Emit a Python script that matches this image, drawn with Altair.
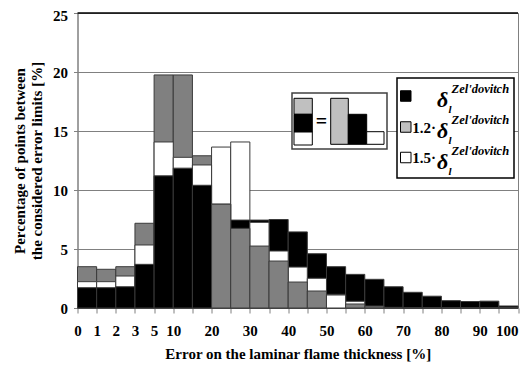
import altair as alt
import pandas as pd

# ---- data ----
edge_labels = ["0", "1", "2", "3", "5", "10", "", "20", "", "30", "", "40", "", "50", "",
               "60", "", "70", "", "80", "", "90", "", "100"]
series_names = ["d", "1.2d", "1.5d"]
black_vals = [1.72, 1.72, 1.80, 3.70, 11.20, 11.85, 10.40, 8.80, 7.45, 7.45, 7.50, 6.45,
              4.60, 3.50, 2.85, 2.43, 1.80, 1.33, 1.00, 0.62, 0.55, 0.58, 0.17]
gray_vals = [3.50, 3.28, 3.50, 7.18, 19.75, 19.75, 12.90, 8.80, 6.75, 5.25, 3.98, 2.20,
             1.44, 1.16, 0.34, 0.10, 0.05, 0.0, 0.0, 0.0, 0.0, 0.0, 0.0]
white_vals = [2.23, 2.23, 2.71, 5.34, 14.07, 12.77, 12.12, 13.64, 14.07, 7.26, 4.83, 3.47,
              2.52, 1.10, 0.57, 0.17, 0.05, 0.0, 0.0, 0.0, 0.0, 0.0, 0.0]
y_ticks = [0, 5, 10, 15, 20, 25]

# draw taller bars first, shorter ones in front (ties: gray in front)
tie_rank = {"d": 0, "1.5d": 1, "1.2d": 2}
rows = []
for i in range(len(black_vals)):
    entries = list(zip(series_names, (black_vals[i], gray_vals[i], white_vals[i])))
    entries.sort(key=lambda e: (-e[1], tie_rank[e[0]]))
    for z, (name, v) in enumerate(entries):
        rows.append({"start": i, "end": i + 1, "series": name, "value": v, "z": z})
df = pd.DataFrame(rows)

FONT = "Liberation Serif"
W, H = 440.5, 295
one = pd.DataFrame({"k": [0]})
last = len(edge_labels) - 1

label_expr = "[" + ",".join("'%s'" % s for s in edge_labels) + "][datum.value]"

bars = alt.Chart(df).mark_bar(stroke="#3a3a3a", strokeWidth=1).encode(
    x=alt.X("start:Q",
            scale=alt.Scale(domain=[0, len(black_vals)], nice=False, zero=False),
            axis=alt.Axis(values=list(range(len(edge_labels))), labelExpr=label_expr,
                          title="Error on the laminar flame thickness [%]",
                          grid=False, tickSize=5, labelPadding=10, titlePadding=8,
                          labelFontSize=15, titleFontSize=15, labelFlush=False,
                          labelOverlap=False,
                          labelAlign={"condition": {"test": "datum.value == %d" % last,
                                                    "value": "right"},
                                      "value": "center"})),
    x2="end:Q",
    y=alt.Y("value:Q", stack=None,
            scale=alt.Scale(domain=[0, 25], nice=False),
            axis=alt.Axis(values=y_ticks, grid=True, gridColor="#808080", gridWidth=1,
                          title=["Percentage of points between", "the considered error limits [%]"],
                          tickSize=4, labelPadding=6, titlePadding=8,
                          labelFontSize=15, titleFontSize=15,
                          labelOffset={"condition": {"test": "datum.value == 25", "value": 2.5},
                                       "value": 0})),
    y2=alt.datum(0),
    fill=alt.Fill("series:N", scale=alt.Scale(domain=series_names,
                                              range=["#000000", "#808080", "#ffffff"]),
                  legend=None),
    order=alt.Order("z:Q", sort="ascending"),
)

top_rule = alt.Chart(one).mark_rule(color="black", strokeWidth=1.5).encode(
    x=alt.value(0), x2=alt.value(W), y=alt.value(0))


def box(x, x2, y, y2, fill, stroke="black", sw=1.0):
    return alt.Chart(one).mark_rect(fill=fill, stroke=stroke, strokeWidth=sw).encode(
        x=alt.value(x), x2=alt.value(x2), y=alt.value(y), y2=alt.value(y2))


def txt(x, y, s, size, italic=False, align="left", baseline="alphabetic"):
    return alt.Chart(one).mark_text(
        text=s, font=FONT, fontSize=size, fontWeight="bold",
        fontStyle="italic" if italic else "normal", align=align, baseline=baseline,
        color="black").encode(x=alt.value(x), y=alt.value(y))


layers = [bars, top_rule]

# inset illustration
layers += [
    box(214.5, 309.5, 80, 136, "white", stroke="#404040", sw=1.5),
    box(216.5, 234.8, 85.3, 101.3, "#c0c0c0"),
    box(216.5, 234.8, 101.3, 119, "#000000"),
    box(216.5, 234.8, 119, 132, "#ffffff"),
    txt(244, 109, "=", 20, align="center", baseline="middle"),
    box(253.2, 270.8, 85.3, 131.3, "#c0c0c0"),
    box(270.8, 289.2, 101.3, 131.3, "#000000"),
    box(289.2, 306.5, 118.7, 131.3, "#ffffff"),
]

# legend
layers.append(box(319.5, 436.5, 65, 165, "white", stroke="black", sw=1.5))
legend_entries = [("#000000", ""), ("#c0c0c0", "1.2·"), ("#ffffff", "1.5·")]
centers = [83, 114, 144.5]
for (col, pre), c in zip(legend_entries, centers):
    layers.append(box(323, 333.5, c - 5.25, c + 5.25, col, stroke="black", sw=1))
    if pre:
        layers.append(txt(358.5, c + 5.5, pre, 15, align="right"))
    layers.append(txt(359.5, c + 11, "δ", 22, italic=True))
    layers.append(txt(371, c + 17, "l", 11, italic=True))
    layers.append(txt(374, c - 3, "Zel'dovitch", 12.5, italic=True))

chart = alt.layer(*layers).properties(
    width=W, height=H,
    autosize=alt.AutoSizeParams(type="none"),
    padding={"left": 69.5, "top": 5, "right": 5, "bottom": 54},
).configure_view(stroke="#808080", strokeWidth=1).configure_axis(
    domainColor="#808080", tickColor="#808080", labelColor="black", titleColor="black",
    labelFont=FONT, titleFont=FONT, labelFontWeight="bold", titleFontWeight="bold",
)

chart.save("out.html", embed_options={"renderer": "svg", "actions": False})
